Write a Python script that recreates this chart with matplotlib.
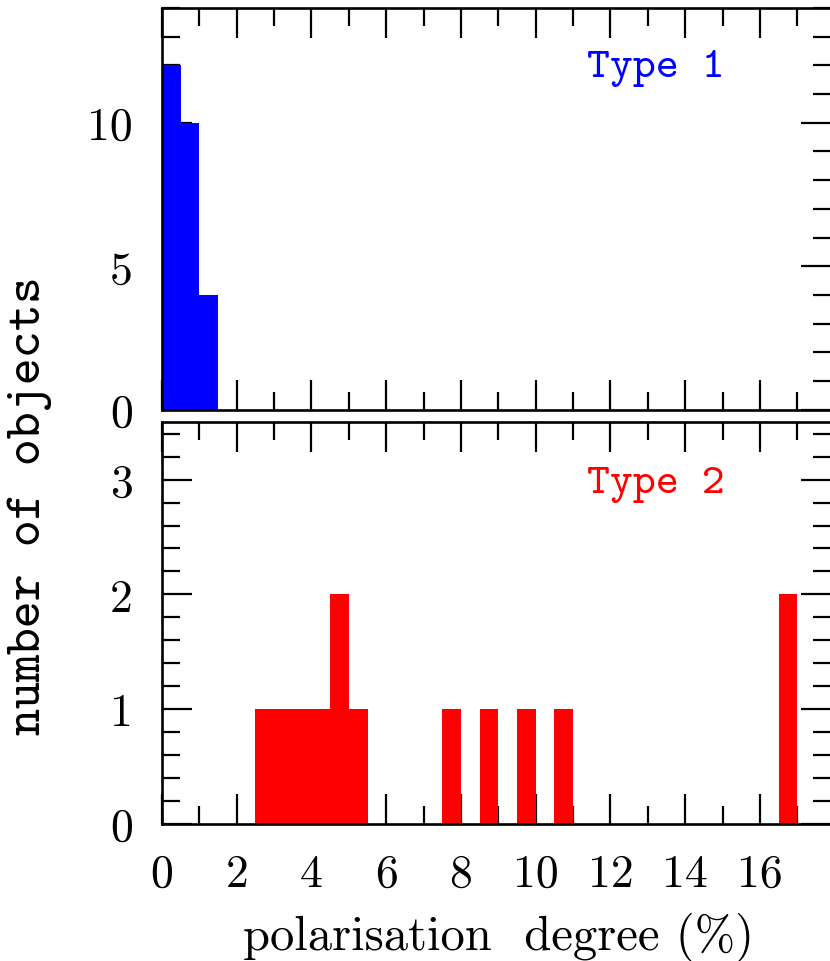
import matplotlib
matplotlib.use('Agg')
import matplotlib.pyplot as plt
from matplotlib.ticker import MultipleLocator, FixedLocator

# histogram data, bins of 0.5 per cent
bin_width = 0.5
type1_left = [0.0, 0.5, 1.0]
type1_counts = [12, 10, 4]

type2_left = [2.5, 3.0, 3.5, 4.0, 4.5, 5.0, 7.5, 8.5, 9.5, 10.5, 16.5]
type2_counts = [1, 1, 1, 1, 2, 1, 1, 1, 1, 1, 2]

x_major = list(range(0, 17, 2))

fig = plt.figure(figsize=(8.3, 9.62), dpi=100)
W, H = 830, 962
left, right = 162 / W, 831 / W
ax1 = fig.add_axes([left, 1 - 410.7 / H, right - left, 401.7 / H])
ax2 = fig.add_axes([left, 1 - 824.7 / H, right - left, 401.4 / H])

ax1.bar(type1_left, type1_counts, width=bin_width, align='edge',
        color='#0000ff', linewidth=0, zorder=3)
ax2.bar(type2_left, type2_counts, width=bin_width, align='edge',
        color='#ff0000', linewidth=0, zorder=3)

ax1.set_ylim(0, 14)
ax2.set_ylim(0, 3.5)
for ax in (ax1, ax2):
    ax.set_xlim(0, 17.9)
    ax.xaxis.set_major_locator(FixedLocator(x_major))
    ax.xaxis.set_minor_locator(MultipleLocator(1))
    ax.tick_params(which='both', direction='in', top=True, right=True,
                   width=1.6, pad=21, labelsize=33)
    ax.tick_params(which='major', length=21.5)
    ax.tick_params(which='minor', length=13)
    for sp in ax.spines.values():
        sp.set_linewidth(1.9)
        sp.set_zorder(4)
    for lab in ax.get_xticklabels() + ax.get_yticklabels():
        lab.set_fontfamily('cmr10')

ax1.yaxis.set_major_locator(MultipleLocator(5))
ax1.yaxis.set_minor_locator(MultipleLocator(1))
ax2.yaxis.set_major_locator(MultipleLocator(1))
ax2.yaxis.set_minor_locator(MultipleLocator(0.2))
ax1.tick_params(labelbottom=False)

ax1.text(0.635, 0.831, 'Type 1', transform=ax1.transAxes, color='#0000ff',
         fontfamily='cmtt10', fontsize=31.5, va='baseline', ha='left')
ax2.text(0.635, 0.826, 'Type 2', transform=ax2.transAxes, color='#ff0000',
         fontfamily='cmtt10', fontsize=31.5, va='baseline', ha='left')

fig.text(498 / W, 1 - 950 / H, 'polarisation  degree (%)', fontfamily='cmr10',
         fontsize=35, ha='center', va='baseline')
fig.text(30 / W, 1 - 506 / H, 'number of objects', rotation=90,
         fontfamily='cmtt10', fontsize=37, ha='center', va='center')

fig.savefig('out.png', dpi=100)
